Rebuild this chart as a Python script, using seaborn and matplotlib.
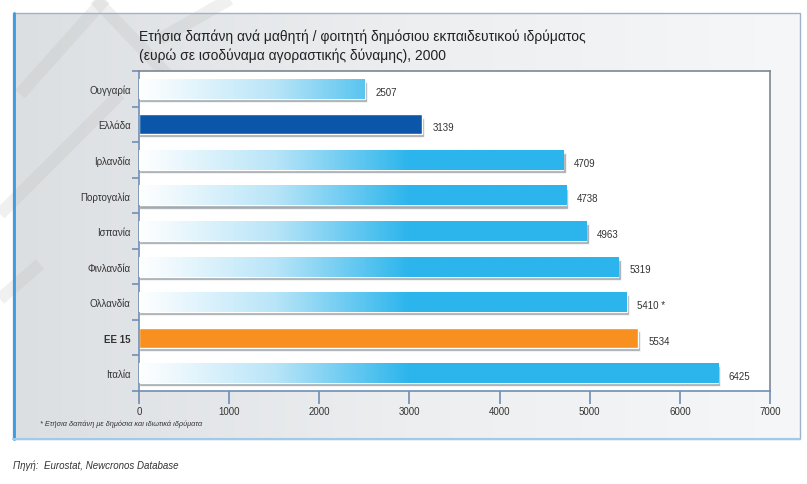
import matplotlib
matplotlib.use('Agg')
import matplotlib.pyplot as plt
import matplotlib.patches as mpatches
import matplotlib.lines as mlines
import numpy as np
import seaborn as sns
from matplotlib.colors import LinearSegmentedColormap

sns.set_style('white')
plt.rcParams['font.family'] = ['Liberation Sans Narrow', 'Liberation Sans', 'DejaVu Sans']

# Data
countries = ['Ουγγαρία', 'Ελλάδα', 'Ιρλανδία', 'Πορτογαλία', 'Ισπανία',
             'Φινλανδία', 'Ολλανδία', 'ΕΕ 15', 'Ιταλία']
spending = [2507, 3139, 4709, 4738, 4963, 5319, 5410, 5534, 6425]
value_labels = ['2507', '3139', '4709', '4738', '4963', '5319', '5410 *', '5534', '6425']
x_ticks = [0, 1000, 2000, 3000, 4000, 5000, 6000, 7000]

title = ('Ετήσια δαπάνη ανά μαθητή / φοιτητή δημόσιου εκπαιδευτικού ιδρύματος\n'
         '(ευρώ σε ισοδύναμα αγοραστικής δύναμης), 2000')
footnote = '* Ετήσια δαπάνη με δημόσια και ιδιωτικά ιδρύματα'
source = 'Πηγή:  Eurostat, Newcronos Database'

W, H = 807, 485
fig = plt.figure(figsize=(W / 100, H / 100), dpi=100)

# background panel with soft gradient
bg = fig.add_axes([0, 0, 1, 1], zorder=-5)
bg.set_xlim(0, W)
bg.set_ylim(H, 0)
bg.axis('off')
grad = np.linspace(0, 1, 256).reshape(1, -1)
panel_cmap = LinearSegmentedColormap.from_list('panel', ['#dcdfe2', '#eceef0', '#f6f7f8'])
bg.imshow(grad, cmap=panel_cmap, extent=(13, 800, 440, 14), aspect='auto', zorder=0)
bg.add_patch(mpatches.Rectangle((13, 14), 787, 426, fill=False, ec='#9fb3c8', lw=1.0, zorder=2))
bg.add_line(mlines.Line2D([14, 14], [14, 440], color='#3a9be0', lw=2.0, zorder=3))
bg.add_line(mlines.Line2D([13, 800], [440, 440], color='#9ecbe9', lw=1.5, zorder=3))
# faint watermark stripes
for (xa, ya, xb, yb) in [(20, 95, 105, 0), (95, 0, 200, 110), (0, 215, 120, 95),
                         (0, 300, 40, 265), (160, 40, 230, 0)]:
    bg.add_line(mlines.Line2D([xa, xb], [ya, yb], color='#b0b0b0', lw=9, alpha=0.18,
                              solid_capstyle='butt', zorder=1))

bg.text(139, 30, title, fontsize=10, color='#222222', va='top', ha='left',
        linespacing=1.35, fontweight='medium')
bg.text(40, 424, footnote, fontsize=5.3, style='italic', color='#333333', va='center')
bg.text(13, 466, source, fontsize=7, style='italic', color='#333333', va='center')

# main axes
ax = fig.add_axes([139 / W, 1 - 392 / H, 631 / W, 320 / H])
ax.set_facecolor('white')

colors = ['#2bb5ec'] * len(countries)
colors[countries.index('Ελλάδα')] = '#0b56a8'
colors[countries.index('ΕΕ 15')] = '#f7901e'

# shadows under bars
ax.barh(np.arange(len(countries)) + 0.09, [v + 25 for v in spending], height=0.56,
        color='#7e868d', alpha=0.7, zorder=1)

sns.barplot(x=spending, y=countries, hue=countries, palette=colors, orient='h',
            width=0.56, legend=False, ax=ax, zorder=2, saturation=1)

blue_cmap = LinearSegmentedColormap.from_list('bar', ['#ffffff', '#b9e5f8', '#2bb5ec'])
gx = np.clip(np.linspace(0, 7000, 512) / 3000, 0, 1).reshape(1, -1)
for p in ax.patches[len(countries):]:
    y0 = p.get_y()
    idx = int(round(y0 + p.get_height() / 2))
    if countries[idx] in ('Ελλάδα', 'ΕΕ 15'):
        continue
    im = ax.imshow(gx, cmap=blue_cmap, extent=(0, 7000, y0 + p.get_height(), y0),
                   aspect='auto', zorder=3)
    im.set_clip_path(p)

for i, (v, lab) in enumerate(zip(spending, value_labels)):
    ax.text(v + 120, i + 0.08, lab, fontsize=7, color='#333333', va='center', ha='left', zorder=5)

ax.set_xlim(0, 7000)
ax.set_ylim(len(countries) - 0.5, -0.5)
ax.set_xticks(x_ticks)
ax.set_xticklabels([str(t) for t in x_ticks], fontsize=7, color='#333333')
ax.set_yticks(range(len(countries)))
ax.set_yticklabels(countries, fontsize=7, color='#333333')
for lbl in ax.get_yticklabels():
    if lbl.get_text() == 'ΕΕ 15':
        lbl.set_fontweight('bold')
ax.set_yticks(np.arange(-0.5, len(countries), 1), minor=True)
ax.tick_params(axis='y', which='major', left=True, length=0, pad=6)
ax.tick_params(axis='y', which='minor', left=True, length=5, color='#6f8fb3', width=1.2,
               direction='out')
ax.tick_params(axis='x', which='major', bottom=True, length=9, color='#6f8fb3', width=1.2,
               pad=2, direction='out')
ax.set_xlabel('')
ax.set_ylabel('')
for side in ['left', 'bottom']:
    ax.spines[side].set_color('#6f8fb3')
    ax.spines[side].set_linewidth(1.2)
for side in ['top', 'right']:
    ax.spines[side].set_color('#7d8790')
    ax.spines[side].set_linewidth(1.2)
ax.grid(False)

fig.savefig('out.png', dpi=100)
